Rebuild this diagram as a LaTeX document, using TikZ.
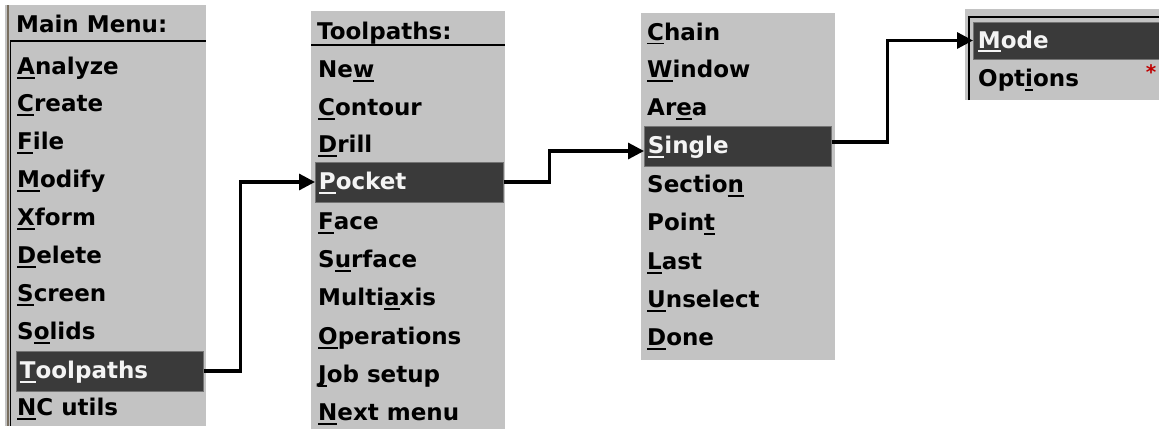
\documentclass[tikz,border=0pt]{standalone}
\usepackage{fontspec}
\setmainfont{DejaVu Sans}
\usetikzlibrary{arrows.meta}
\definecolor{panel}{HTML}{C3C3C3}
\definecolor{hilite}{HTML}{3A3A3A}
\definecolor{hitext}{HTML}{F4F4F4}
\definecolor{edgebrown}{RGB}{120,110,95}
% accelerator letter: underline drawn in the current text colour
\newsavebox\accbox
\newcommand\acc[1]{\sbox\accbox{#1}\rlap{\rule[-4pt]{\wd\accbox}{1.8pt}}\usebox\accbox}
\begin{document}
\begin{tikzpicture}[x=1pt,y=-1pt,
  menufont/.style={font=\fontsize{23}{27}\selectfont\bfseries},
  item/.style={menufont, anchor=west, inner sep=0pt, text height=18pt, text depth=3pt},
  hl/.style={item, fill=hilite, text=hitext, draw=black!55, line width=0.8pt,
             inner xsep=3.5pt, minimum height=40pt, align=left},
  link/.style={line width=3.2pt, -{Triangle[length=16pt,width=16pt]}}]
\useasboundingbox (0,0) rectangle (1159,431);

% ---- Main menu ----
\fill[panel] (5,5) rectangle (206,426);
\draw[line width=2pt, edgebrown] (7.5,5) -- (7.5,426);
\draw[line width=1.8pt] (10,41) -- (206,41);
\draw[line width=1.6pt] (10.5,41) -- (10.5,426);
\node[item] (mmhead) at (16,25) {Main Menu:};
\node[item] (analyze) at (17,67) {\acc{A}nalyze};
\node[item] (create) at (17,104) {\acc{C}reate};
\node[item] (file) at (17,142) {\acc{F}ile};
\node[item] (modify) at (17,180) {\acc{M}odify};
\node[item] (xform) at (17,218) {\acc{X}form};
\node[item] (delete) at (17,256) {\acc{D}elete};
\node[item] (screen) at (17,294) {\acc{S}creen};
\node[item] (solids) at (17,332) {S\acc{o}lids};
\node[hl, text width=180pt] (toolpaths) at (16,371) {\acc{T}oolpaths};
\node[item] (ncutils) at (17,408) {\acc{N}C utils};

% ---- Toolpaths menu ----
\fill[panel] (311,11) rectangle (505,429);
\draw[line width=1.8pt] (311,45) -- (505,45);
\node[item] (tphead) at (317,32) {Toolpaths:};
\node[item] (new) at (318,70) {Ne\acc{w}};
\node[item] (contour) at (318,108) {\acc{C}ontour};
\node[item] (drill) at (318,145) {\acc{D}rill};
\node[hl, text width=181pt] (pocket) at (315,182) {\acc{P}ocket};
\node[item] (face) at (318,222) {\acc{F}ace};
\node[item] (surface) at (318,260) {S\acc{u}rface};
\node[item] (multiaxis) at (318,298) {Multi\acc{a}xis};
\node[item] (operations) at (318,337) {\acc{O}perations};
\node[item] (jobsetup) at (318,375) {\acc{J}ob setup};
\node[item] (nextmenu) at (318,413) {\acc{N}ext menu};

% ---- Selection menu ----
\fill[panel] (641,13) rectangle (835,360);
\node[item] (chain) at (647,33) {\acc{C}hain};
\node[item] (window) at (647,70) {\acc{W}indow};
\node[item] (area) at (647,108) {Ar\acc{e}a};
\node[hl, text width=180pt] (single) at (644,146) {\acc{S}ingle};
\node[item] (section) at (647,185) {Sectio\acc{n}};
\node[item] (point) at (647,223) {Poin\acc{t}};
\node[item] (last) at (647,262) {\acc{L}ast};
\node[item] (unselect) at (647,300) {\acc{U}nselect};
\node[item] (done) at (647,338) {\acc{D}one};

% ---- Mode menu ----
\fill[panel] (965,9) rectangle (1159,100);
\draw[line width=1.6pt] (969,100) -- (969,17) -- (1159,17);
\node[hl, minimum height=37pt, text width=200pt, inner xsep=4.5pt] (mode) at (973,40.5) {\acc{M}ode};
\node[item] (options) at (978,79) {Opt\acc{i}ons};
\node[text=red!75!black, font=\fontsize{20}{20}\selectfont\bfseries, inner sep=0pt] (star) at (1151,72) {*};

% ---- connectors ----
\draw[link] (toolpaths.east) -- ++(37,0) |- (pocket.west);
\draw[link] (pocket.east) -- ++(46,0) |- ([yshift=-5pt]single.west);
\draw[link] ([yshift=4pt]single.east) -- ++(56,0) |- (mode.west);
\end{tikzpicture}
\end{document}
